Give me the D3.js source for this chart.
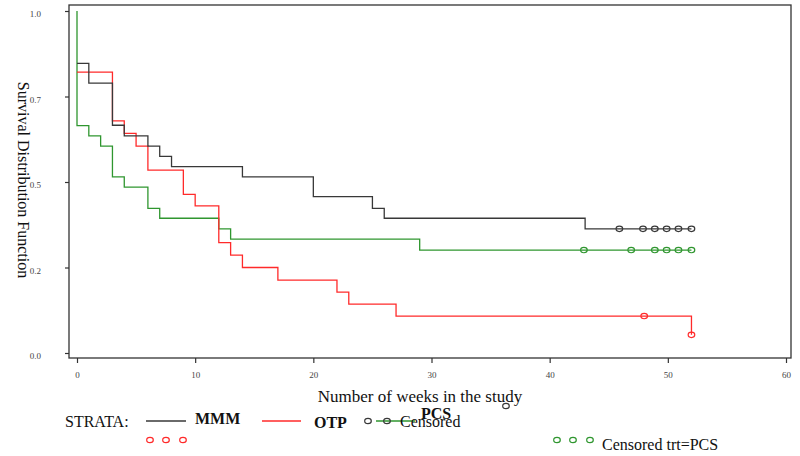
<!DOCTYPE html>
<html><head><meta charset="utf-8">
<script src="https://cdn.jsdelivr.net/npm/d3@7"></script>
<style>body{margin:0;background:#fff;} svg{display:block;}</style>
</head><body>
<svg id="c" width="800" height="456"></svg>
<script>
// ---- data ----
const xTicks = [0,10,20,30,40,50,60];
const yTicks = [1.0,0.75,0.5,0.25,0.0];
const yTickLabels = ["1.0","0.7","0.5","0.2","0.0"];

const mmmTimes = [0,1,3,4,6,7,8,14,20,25,26,43,52];
const mmmSurv  = [0.847,0.789,0.666,0.635,0.605,0.575,0.545,0.515,0.457,0.423,0.394,0.363,0.363];
const mmmCensT = [45.9,47.9,48.9,49.9,50.9,52];
const mmmCensS = [0.363,0.363,0.363,0.363,0.363,0.363];

const otpTimes = [0,3,4,5,6,9,10,12,13,14,17,22,23,27,52];
const otpSurv  = [0.821,0.679,0.642,0.605,0.535,0.464,0.430,0.323,0.286,0.250,0.213,0.178,0.143,0.108,0.053];
const otpCensT = [48,52];
const otpCensS = [0.108,0.053];

const pcsTimes = [0,0,1,2,3,4,6,7,12,13,29,52];
const pcsSurv  = [1.0,0.665,0.635,0.605,0.515,0.485,0.423,0.394,0.363,0.333,0.301,0.301];
const pcsCensT = [42.9,46.9,48.9,49.9,50.9,52];
const pcsCensS = [0.301,0.301,0.301,0.301,0.301,0.301];

const colors = {MMM:"#383838", OTP:"#ff2a2a", PCS:"#2f962f"};

// ---- drawing ----
const svg = d3.select("#c");
const x = d3.scaleLinear().domain([0,60]).range([77,786]);
const y = d3.scaleLinear().domain([0,1]).range([353,11]);
const serif = "'Liberation Serif','Times New Roman',serif";

// frame
svg.append("rect").attr("x",69).attr("y",5).attr("width",722).attr("height",353)
  .attr("fill","none").attr("stroke","#333").attr("stroke-width",1.3);

// y axis ticks
const yAxis = d3.axisLeft(y).tickValues(yTicks).tickSize(4).tickPadding(24)
  .tickFormat((d,i)=>yTickLabels[i]);
const gy = svg.append("g").attr("transform","translate(69,0)").call(yAxis);
gy.select(".domain").remove();
gy.selectAll("line").attr("stroke","#333").attr("stroke-width",1.2);
gy.selectAll("text").attr("font-family",serif).attr("font-size",9).attr("fill","#444")
  .attr("dy","0.65em");

// x axis ticks
const xAxis = d3.axisBottom(x).tickValues(xTicks).tickSize(5).tickPadding(9);
const gx = svg.append("g").attr("transform","translate(0,358)").call(xAxis);
gx.select(".domain").remove();
gx.selectAll("line").attr("stroke","#333").attr("stroke-width",1.2);
gx.selectAll("text").attr("font-family",serif).attr("font-size",9).attr("fill","#444");

// curves
const line = d3.line().x(d=>x(d[0])).y(d=>y(d[1])).curve(d3.curveStepAfter);
function curve(times, surv, col){
  svg.append("path").datum(times.map((t,i)=>[t,surv[i]]))
    .attr("d",line).attr("fill","none").attr("stroke",col).attr("stroke-width",1.3);
}
function cens(times, surv, col){
  svg.append("g").selectAll("ellipse").data(times.map((t,i)=>[t,surv[i]])).join("ellipse")
    .attr("cx",d=>x(d[0])).attr("cy",d=>y(d[1])).attr("rx",3.3).attr("ry",2.7)
    .attr("fill","none").attr("stroke",col).attr("stroke-width",1.2);
}
curve(pcsTimes,pcsSurv,colors.PCS);
curve(otpTimes,otpSurv,colors.OTP);
curve(mmmTimes,mmmSurv,colors.MMM);
cens(pcsCensT,pcsCensS,colors.PCS);
cens(otpCensT,otpCensS,colors.OTP);
cens(mmmCensT,mmmCensS,colors.MMM);

// axis titles
svg.append("text").attr("x",420).attr("y",402).attr("text-anchor","middle")
  .attr("font-family",serif).attr("font-size",17).attr("fill","#111")
  .text("Number of weeks in the study");
svg.append("text").attr("transform","translate(18,180) rotate(90)").attr("text-anchor","middle")
  .attr("font-family",serif).attr("font-size",16).attr("fill","#111")
  .text("Survival Distribution Function");

// legend
const lg = svg.append("g").attr("font-family",serif).attr("fill","#111");
lg.append("text").attr("x",65).attr("y",427).attr("font-size",16).text("STRATA:");
function legLine(x1,x2,yy,col){
  lg.append("line").attr("x1",x1).attr("x2",x2).attr("y1",yy).attr("y2",yy)
    .attr("stroke",col).attr("stroke-width",1.3);
}
function legCirc(cx,cy,col){
  lg.append("ellipse").attr("cx",cx).attr("cy",cy).attr("rx",3.3).attr("ry",2.7)
    .attr("fill","none").attr("stroke",col).attr("stroke-width",1.2);
}
legLine(146,186,421,colors.MMM);
lg.append("text").attr("x",195).attr("y",424).attr("font-size",16).attr("font-weight","bold").text("MMM");
legLine(262,301,421,colors.OTP);
lg.append("text").attr("x",314).attr("y",428).attr("font-size",16).attr("font-weight","bold").text("OTP");
legCirc(368,421,colors.MMM);
legLine(376,415,421,colors.PCS);
legCirc(387,421,colors.MMM);
lg.append("text").attr("x",400).attr("y",427).attr("font-size",16).text("Censored");
lg.append("text").attr("x",421).attr("y",419).attr("font-size",16).attr("font-weight","bold").text("PCS");
legCirc(506,406,colors.MMM);
[150,166,183].forEach(cx=>legCirc(cx,440,colors.OTP));
[557,573,590].forEach(cx=>legCirc(cx,440,colors.PCS));
lg.append("text").attr("x",602).attr("y",450).attr("font-size",16).text("Censored trt=PCS");
</script>
</body></html>
